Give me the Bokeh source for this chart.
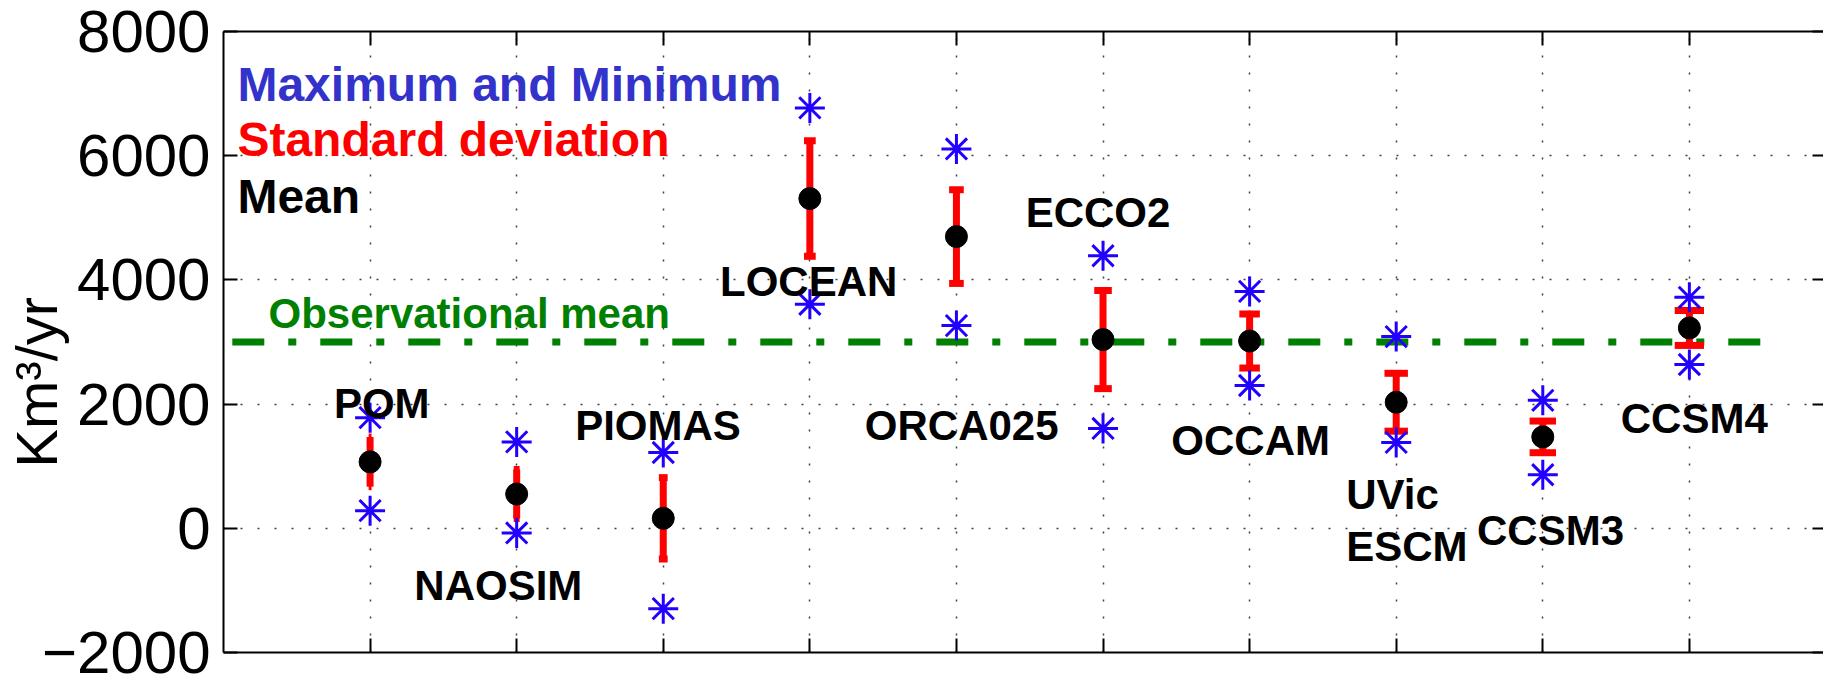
import math
from bokeh.plotting import figure
from bokeh.models import FixedTicker, LinearAxis
from bokeh.core.properties import value
from bokeh.embed import file_html
from bokeh.resources import INLINE

# ---- data ----
models = ["POM", "NAOSIM", "PIOMAS", "LOCEAN", "ORCA025", "ECCO2", "OCCAM", "UVic\nESCM", "CCSM3", "CCSM4"]
x_pos = [1, 2, 3, 4, 5, 6, 7, 8, 9, 10]
mean_vals = [1070, 552, 161, 5310, 4698, 3039, 3016, 2030, 1472, 3226]
std_vals = [400, 395, 655, 930, 755, 790, 435, 466, 255, 281]
max_vals = [1782, 1391, 1220, 6770, 6109, 4389, 3815, 3087, 2061, 3719]
min_vals = [284, -75, -1294, 3608, 3264, 1608, 2299, 1383, 862, 2638]
obs_mean = 3000
y_ticks = [-2000, 0, 2000, 4000, 6000, 8000]

# label placement (layout only)
label_x = [0.753, 1.302, 2.399, 3.387, 4.375, 5.472, 6.466, 7.659, 8.551, 9.532]
label_y = [2017, -914, 1653, 3976, 1653, 5083, 1412, 541, -37, 1761]

FONT = value("Liberation Sans")

p = figure(width=1823, height=678, x_range=(0, 10.915), y_range=(-2000, 8000),
           output_backend="svg", toolbar_location=None,
           min_border_left=223, min_border_right=0, min_border_top=31, min_border_bottom=26,
           outline_line_color=None)
p.background_fill_color = "white"
p.border_fill_color = "white"


def hide_labels(ax):
    ax.major_label_text_font_size = "0px"
    ax.major_label_text_color = None
    ax.major_label_text_alpha = 0
    ax.major_label_standoff = 0


# axes
for ax in p.xaxis:
    ax.ticker = FixedTicker(ticks=x_pos)
    ax.major_tick_in = 14
    ax.major_tick_out = 0
    ax.minor_tick_line_color = None
    hide_labels(ax)
    ax.axis_line_width = 2
    ax.major_tick_line_width = 2
    ax.axis_line_color = "black"
    ax.major_tick_line_color = "black"

top = LinearAxis(ticker=FixedTicker(ticks=x_pos), major_tick_in=14, major_tick_out=0,
                 minor_tick_line_color=None, axis_line_width=2, major_tick_line_width=2)
hide_labels(top)
p.add_layout(top, "above")

overrides = {t: (("\u2212" + str(abs(t))) if t < 0 else str(t)) for t in y_ticks}
for ax in p.yaxis:
    ax.ticker = FixedTicker(ticks=y_ticks)
    ax.major_tick_in = 14
    ax.major_tick_out = 0
    ax.minor_tick_line_color = None
    ax.major_label_text_font_size = "60px"
    ax.major_label_text_font = "Liberation Sans"
    ax.major_label_text_color = "black"
    ax.major_label_standoff = 13
    ax.major_label_overrides = overrides
    ax.axis_line_width = 2
    ax.major_tick_line_width = 2
    ax.axis_line_color = "black"
    # trailing no-break spaces shift the visible label down to where the reference has it
    ax.axis_label = "Km\u00b3/yr" + "\u00a0" * 5
    ax.axis_label_text_font = "Liberation Sans"
    ax.axis_label_text_font_style = "normal"
    ax.axis_label_text_font_size = "58px"
    ax.axis_label_text_color = "black"
    ax.axis_label_standoff = -30

right = LinearAxis(ticker=FixedTicker(ticks=y_ticks), major_tick_in=11, major_tick_out=0,
                   minor_tick_line_color=None, axis_line_color=None, major_tick_line_width=2)
hide_labels(right)
p.add_layout(right, "right")

# grid
p.xgrid.ticker = FixedTicker(ticks=x_pos)
p.ygrid.ticker = FixedTicker(ticks=y_ticks)
for g in (p.xgrid, p.ygrid):
    g.grid_line_color = "#404040"
    g.grid_line_width = 1.5
    g.grid_line_dash = "2 15"

# observational mean line
p.line([0.06, 10.54], [obs_mean, obs_mean], line_color="green", line_width=7,
       line_dash="32 24 8 24")

# error bars
upper = [m + s for m, s in zip(mean_vals, std_vals)]
lower = [m - s for m, s in zip(mean_vals, std_vals)]
p.segment(x_pos, lower, x_pos, upper, line_color="#ff0000", line_width=7)
half = [x / 100 for x in x_pos]
p.segment([x - h for x, h in zip(x_pos, half)], upper, [x + h for x, h in zip(x_pos, half)], upper,
          line_color="#ff0000", line_width=7)
p.segment([x - h for x, h in zip(x_pos, half)], lower, [x + h for x, h in zip(x_pos, half)], lower,
          line_color="#ff0000", line_width=7)

# means
p.scatter(x_pos, mean_vals, size=22, fill_color="black", line_color="black")

# max/min
p.scatter(x_pos, max_vals, marker="asterisk", size=30, line_color="#2200ff", line_width=3)
p.scatter(x_pos, min_vals, marker="asterisk", size=30, line_color="#2200ff", line_width=3)

# model labels
lx, ly, lt = [], [], []
for name, x, y in zip(models, label_x, label_y):
    parts = name.split("\n")
    for i, part in enumerate(parts):
        lx.append(x)
        ly.append(y - i * 834)
        lt.append(part)
p.text(lx, ly, text=lt, text_font=FONT, text_font_style="bold", text_font_size="42px",
       text_align="left", text_baseline="alphabetic", text_color="black")

# legend-like texts
p.text([0.095], [7153], text=["Maximum and Minimum"], text_font=FONT, text_font_style="bold",
       text_font_size="48px", text_color="#3333cc", text_baseline="alphabetic")
p.text([0.095], [6254], text=["Standard deviation"], text_font=FONT, text_font_style="bold",
       text_font_size="48px", text_color="#ff0000", text_baseline="alphabetic")
p.text([0.095], [5339], text=["Mean"], text_font=FONT, text_font_style="bold",
       text_font_size="48px", text_color="black", text_baseline="alphabetic")
p.text([0.307], [3465], text=["Observational mean"], text_font=FONT, text_font_style="bold",
       text_font_size="42px", text_color="green", text_baseline="alphabetic")

open("out.html", "w").write(file_html(p, INLINE))
